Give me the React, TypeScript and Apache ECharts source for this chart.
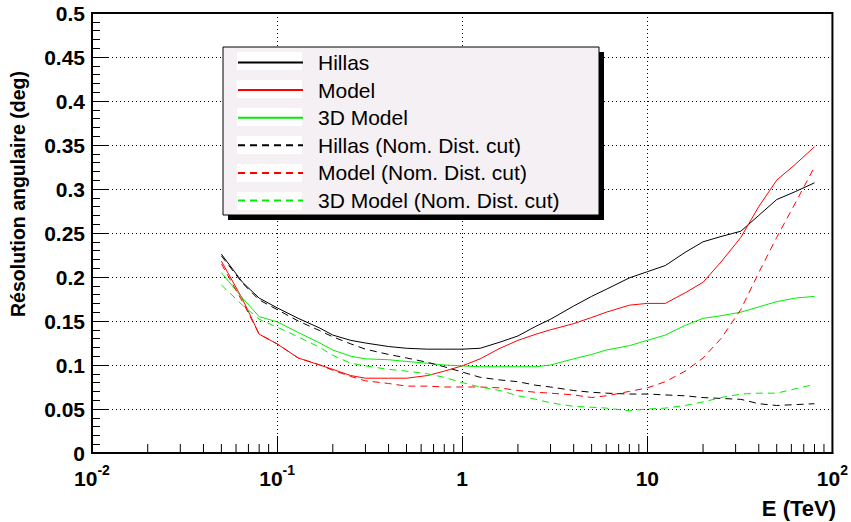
import React, { useEffect, useRef } from "react";
import * as echarts from "echarts";

// ---- data ----
const energies = [0.05, 0.065, 0.08, 0.1, 0.13, 0.17, 0.2, 0.25, 0.3, 0.4, 0.5, 0.65, 0.8, 1, 1.25, 1.6, 2, 2.5, 3, 4, 5, 6, 8, 10, 12.5, 16, 20, 25, 32, 40, 50, 63, 80];

const hillas = [0.226, 0.194, 0.176, 0.165, 0.153, 0.142, 0.134, 0.128, 0.125, 0.121, 0.119, 0.118, 0.118, 0.118, 0.119, 0.126, 0.133, 0.144, 0.152, 0.167, 0.178, 0.186, 0.199, 0.206, 0.213, 0.228, 0.24, 0.246, 0.252, 0.27, 0.288, 0.297, 0.307];
const model = [0.218, 0.175, 0.135, 0.124, 0.108, 0.1, 0.095, 0.088, 0.085, 0.085, 0.085, 0.088, 0.093, 0.099, 0.107, 0.119, 0.128, 0.135, 0.14, 0.147, 0.154, 0.16, 0.168, 0.17, 0.17, 0.182, 0.194, 0.217, 0.245, 0.28, 0.31, 0.328, 0.348];
const model3D = [0.205, 0.176, 0.155, 0.149, 0.137, 0.125, 0.117, 0.11, 0.107, 0.106, 0.104, 0.102, 0.1, 0.099, 0.098, 0.098, 0.098, 0.098, 0.1, 0.107, 0.112, 0.117, 0.122, 0.128, 0.134, 0.145, 0.153, 0.156, 0.16, 0.166, 0.172, 0.176, 0.178];
const hillasCut = [0.224, 0.193, 0.174, 0.163, 0.15, 0.139, 0.132, 0.124, 0.118, 0.112, 0.108, 0.103, 0.098, 0.092, 0.086, 0.083, 0.081, 0.077, 0.075, 0.071, 0.069, 0.068, 0.067, 0.067, 0.066, 0.065, 0.063, 0.062, 0.061, 0.056, 0.054, 0.055, 0.056];
const modelCut = [0.215, 0.172, 0.135, 0.124, 0.108, 0.1, 0.094, 0.087, 0.082, 0.079, 0.076, 0.076, 0.075, 0.075, 0.075, 0.074, 0.071, 0.069, 0.068, 0.066, 0.063, 0.065, 0.07, 0.074, 0.081, 0.093, 0.108, 0.13, 0.163, 0.205, 0.245, 0.284, 0.325];
const model3DCut = [0.191, 0.168, 0.152, 0.143, 0.132, 0.12, 0.111, 0.102, 0.099, 0.095, 0.093, 0.09, 0.086, 0.08, 0.075, 0.071, 0.065, 0.061, 0.057, 0.053, 0.052, 0.051, 0.048, 0.05, 0.051, 0.054, 0.058, 0.063, 0.067, 0.068, 0.068, 0.073, 0.078];

const seriesNames = ["Hillas", "Model", "3D Model", "Hillas (Nom. Dist. cut)", "Model (Nom. Dist. cut)", "3D Model (Nom. Dist. cut)"];
const seriesValues = [hillas, model, model3D, hillasCut, modelCut, model3DCut];
const seriesColors = ["#000000", "#ff0000", "#00ee00", "#000000", "#ff0000", "#00ee00"];
const seriesDashed = [false, false, false, true, true, true];

const xTickBases = ["10", "10", "1", "10", "10"];
const xTickExps = ["-2", "-1", "", "", "2"];
const xMinorTicks = [0.02, 0.03, 0.04, 0.05, 0.06, 0.07, 0.08, 0.09, 0.2, 0.3, 0.4, 0.5, 0.6, 0.7, 0.8, 0.9, 2, 3, 4, 5, 6, 7, 8, 9, 20, 30, 40, 50, 60, 70, 80, 90];

const xTitle = "E (TeV)";
const yTitle = "Résolution angulaire (deg)";

const FONT = "'Liberation Sans', Arial, Helvetica, sans-serif";

export default function App() {
  const ref = useRef<HTMLDivElement>(null);

  useEffect(() => {
    if (!ref.current) return;
    const chart = echarts.init(ref.current, undefined, { renderer: "svg" });

    const lineSeries = seriesNames.map((name, i) => ({
      name,
      type: "line",
      symbol: "none",
      showSymbol: false,
      data: energies.map((e, j) => [e, seriesValues[i][j]]),
      lineStyle: {
        color: seriesColors[i],
        width: 1,
        type: seriesDashed[i] ? [7, 5] : "solid",
      },
      itemStyle: { color: seriesColors[i] },
      z: 3,
    }));

    // legend box placement
    const boxX = 223, boxY = 47, boxW = 376, boxH = 168;
    const rowTop = 52, rowH = 18, rowStep = 28;
    const strips = seriesNames.map((_, i) => ({
      type: "rect",
      z: 7,
      shape: { x: 237, y: rowTop + i * rowStep, width: 65, height: rowH },
      style: { fill: "#ffffff" },
    }));

    const option: any = {
      animation: false,
      backgroundColor: "#ffffff",
      grid: {
        left: 92,
        right: 15,
        top: 13,
        bottom: 69,
        show: true,
        borderColor: "#000",
        borderWidth: 2,
        backgroundColor: "transparent",
      },
      xAxis: {
        type: "log",
        logBase: 10,
        min: 0.01,
        max: 100,
        axisLine: { show: true, lineStyle: { color: "#000", width: 2 } },
        axisTick: { show: true, inside: true, length: 17, lineStyle: { color: "#000", width: 1 } },
        minorTick: { show: false },
        splitLine: { show: true, lineStyle: { color: "#000", type: [1, 3], width: 1 } },
        axisLabel: {
          show: true,
          margin: 10,
          showMinLabel: true,
          showMaxLabel: true,
          formatter: (v: number) => {
            const k = Math.round(Math.log10(v)) + 2;
            const base = xTickBases[k];
            const exp = xTickExps[k];
            return exp ? `{b|${base}}{s|${exp}}` : `{b|${base}}`;
          },
          rich: {
            b: { fontSize: 21, fontWeight: "bold", color: "#000", fontFamily: FONT, lineHeight: 26, verticalAlign: "bottom" },
            s: { fontSize: 14, fontWeight: "bold", color: "#000", fontFamily: FONT, lineHeight: 10, verticalAlign: "top" },
          },
        },
      },
      yAxis: {
        type: "value",
        min: 0,
        max: 0.5,
        interval: 0.05,
        axisLine: { show: true, lineStyle: { color: "#000", width: 2 } },
        axisTick: { show: true, inside: true, length: 17, lineStyle: { color: "#000", width: 1 } },
        minorTick: { show: true, splitNumber: 5, length: 8, lineStyle: { color: "#000", width: 1 } },
        splitLine: { show: true, lineStyle: { color: "#000", type: [1, 3], width: 1 } },
        axisLabel: {
          margin: 7,
          fontSize: 21,
          fontWeight: "bold",
          color: "#000",
          fontFamily: FONT,
          formatter: (v: number) => String(+v.toFixed(2)),
        },
      },
      legend: {
        show: true,
        data: seriesNames,
        orient: "vertical",
        left: 237,
        top: rowTop,
        padding: 0,
        itemWidth: 65,
        itemHeight: rowH,
        itemGap: 6.6,
        selectedMode: false,
        backgroundColor: "transparent",
        z: 10,
        itemStyle: { opacity: 0 },
        textStyle: { fontSize: 21, color: "#000", fontFamily: FONT, lineHeight: rowH, padding: [0, 0, 0, 10] },
      },
      graphic: [
        { type: "rect", z: 5, shape: { x: boxX + 5, y: boxY + 5, width: boxW, height: boxH }, style: { fill: "#000" } },
        { type: "rect", z: 6, shape: { x: boxX, y: boxY, width: boxW, height: boxH }, style: { fill: "#f4f0f4", stroke: "#000", lineWidth: 1 } },
        ...strips,
        {
          type: "text",
          z: 10,
          x: 836,
          y: 508,
          style: { text: xTitle, fontSize: 22, fontWeight: "bold", fill: "#000", fontFamily: FONT, textAlign: "right", textVerticalAlign: "middle" },
        },
        {
          type: "text",
          z: 10,
          x: 18,
          y: 194,
          rotation: Math.PI / 2,
          style: { text: yTitle, fontSize: 19.5, fontWeight: "bold", fill: "#000", fontFamily: FONT, textAlign: "center", textVerticalAlign: "middle" },
        },
      ],
      series: [
        ...lineSeries,
        {
          type: "custom",
          name: "minorTicks",
          silent: true,
          z: 4,
          data: xMinorTicks.map((v) => [v, 0]),
          encode: { x: 0, y: 1 },
          renderItem: (params: any, api: any) => {
            const p = api.coord([api.value(0), api.value(1)]);
            return {
              type: "line",
              shape: { x1: p[0], y1: p[1], x2: p[0], y2: p[1] - 9 },
              style: { stroke: "#000", lineWidth: 1 },
            };
          },
        },
      ],
    };

    chart.setOption(option);
    return () => chart.dispose();
  }, []);

  return (
    <div
      ref={ref}
      style={{ position: "fixed", left: 0, top: 0, width: 851, height: 522, background: "#fff" }}
    />
  );
}
